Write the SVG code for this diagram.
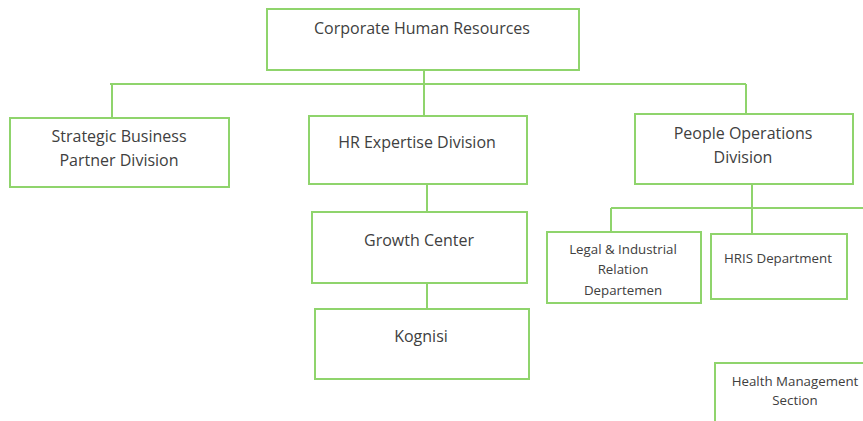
<svg xmlns="http://www.w3.org/2000/svg" width="863" height="421" viewBox="0 0 863 421">
<style>
.box{fill:#ffffff;stroke:#8fd46c;stroke-width:2}
.ln{fill:none;stroke:#8fd46c;stroke-width:2}
text{font-family:"Open Sans","Liberation Sans",sans-serif;fill:#404040;text-anchor:middle}
.t{font-size:16px}
.s{font-size:13.3px}
</style>
<rect width="863" height="421" fill="#ffffff"/>
<g id="connectors">
<path class="ln" d="M424 70V84M110 84H746M112 84V118M424 84V116M746 84V114"/>
<path class="ln" d="M427 184V212M427 283V309"/>
<path class="ln" d="M752 184V234M611 208H863M611 208V232"/>
</g>
<g id="corporate"><rect class="box" x="267" y="9" width="312" height="61"/><text class="t" x="422" y="34">Corporate Human Resources</text></g>
<g id="strategic"><rect class="box" x="10" y="118" width="219" height="69"/><text class="t" x="119" y="142">Strategic Business</text><text class="t" x="119" y="166">Partner Division</text></g>
<g id="hrexpertise"><rect class="box" x="309" y="116" width="218" height="68"/><text class="t" x="417" y="148">HR Expertise Division</text></g>
<g id="peopleops"><rect class="box" x="635" y="114" width="218" height="70"/><text class="t" x="743" y="139">People Operations</text><text class="t" x="743" y="163">Division</text></g>
<g id="growth"><rect class="box" x="312" y="212" width="215" height="71"/><text class="t" x="419" y="246">Growth Center</text></g>
<g id="kognisi"><rect class="box" x="315" y="309" width="214" height="70"/><text class="t" x="421" y="342">Kognisi</text></g>
<g id="legal"><rect class="box" x="547" y="232" width="154" height="71"/><text class="s" x="623" y="254">Legal &amp; Industrial</text><text class="s" x="623" y="274">Relation</text><text class="s" x="623" y="295">Departemen</text></g>
<g id="hris"><rect class="box" x="711" y="234" width="136" height="65"/><text class="s" x="778" y="263">HRIS Department</text></g>
<g id="health"><rect class="box" x="715" y="363" width="160" height="70"/><text class="s" x="795" y="386">Health Management</text><text class="s" x="795" y="405">Section</text></g>
</svg>
